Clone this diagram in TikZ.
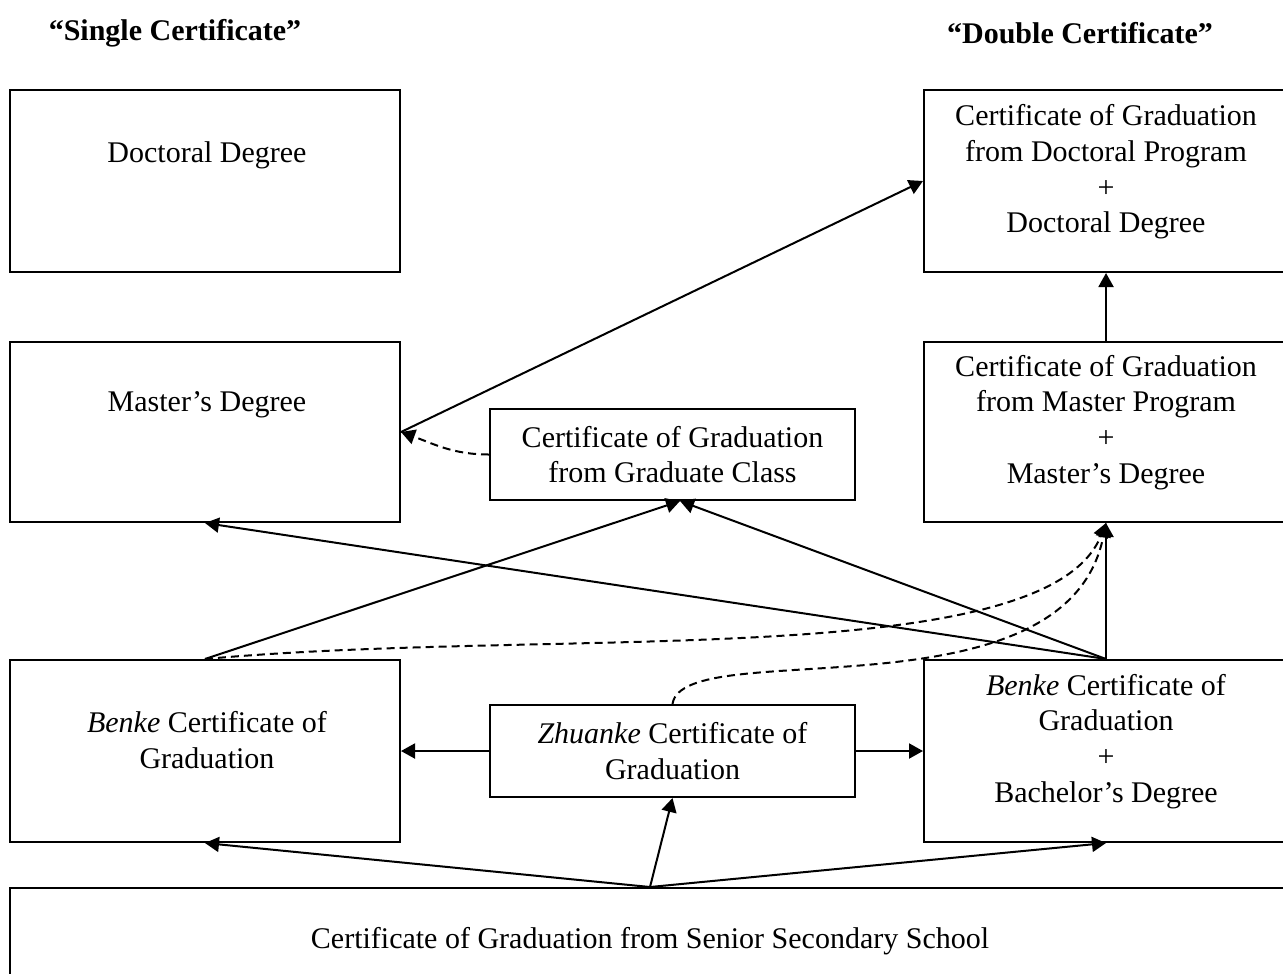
\documentclass[tikz,border=0pt]{standalone}
\usepackage{fontspec}
\setmainfont{Liberation Serif}
\tikzset{
every picture/.style={
line width=0.8pt
}}
\usetikzlibrary{arrows.meta,positioning}
\tikzset{
    box/.style 2 args={
      draw,
      inner sep=0pt,
      minimum width=#1,
      minimum height=#2
    },
    txt/.style={
      align=center,
      font=\fontsize{12}{14.3}\selectfont
    },
    title/.style={
      font=\fontsize{12}{14.3}\selectfont\bfseries
    },
    dashline/.style={
      dash pattern=on 3.2pt off 2pt
    }
}

\begin{document}
\begin{tikzpicture}[x=0.4pt, y=-0.4pt, >={Triangle[length=5.6pt, width=6pt]}]
\useasboundingbox (0,0) rectangle (1283,973);
\clip (0,0) rectangle (1283,973);

\node [title] at (175,33) (single) {“Single Certificate”};
\node [title] at (1080,33) (double) {“Double Certificate”};

% single certificate side
\node [box={156pt}{72.8pt}] at (205,181) (doc) {};
\node [txt] at (207,155) (doc-t) {Doctoral Degree};
\node [box={156pt}{72pt}] at (205,432) (mas) {};
\node [txt] at (207,405) (mas-t) {Master’s Degree};
\node [box={156pt}{72.8pt}] at (205,751) (benke) {};
\node [txt] at (207,740) (benke-t) {\textit{Benke} Certificate of\\Graduation};

% middle
\node [box={146pt}{36.4pt}, txt] at (672.5,454.5) (gcls) {Certificate of Graduation\\from Graduate Class};
\node [box={146pt}{36.8pt}, txt] at (672.5,751) (zk) {\textit{Zhuanke} Certificate of\\Graduation};

% double certificate side
\node [box={145.6pt}{72.8pt}] at (1106,181) (dcert) {};
\node [txt] at (1106,172) (dcert-t) {Certificate of Graduation\\from Doctoral Program\\+\\Doctoral Degree};
\node [box={145.6pt}{72pt}] at (1106,432) (mcert) {};
\node [txt] at (1106,422.5) (mcert-t) {Certificate of Graduation\\from Master Program\\+\\Master’s Degree};
\node [box={145.6pt}{72.8pt}] at (1106,751) (bb) {};
\node [txt] at (1106,741.5) (bb-t) {\textit{Benke} Certificate of\\Graduation\\+\\Bachelor’s Degree};

% senior secondary school
\node [box={512pt}{48pt}] at (650,948) (sen) {};
\node [txt] at (650,941) (sen-t) {Certificate of Graduation from Senior Secondary School};

\draw [->] (mas.east) -- (dcert.west);
\draw [->, dashline] (gcls.west) to[out=180, in=-20] (mas.east);
\foreach \a/\b in {mcert/dcert, bb/mcert} \draw [->] (\a.north) -- (\b.south);
\draw [->] (bb.north) -- (mas.south);
\foreach \x in {bb,benke} \draw [->] (\x.north) -- ([xshift=3pt]gcls.south);
\draw [->, dashline] (benke.north) .. controls +(350,-32) and +(-60,150) .. (mcert.south);
\draw [->, dashline] (zk.north) .. controls +(10,-70) and +(-40,200) .. (mcert.south);
\draw [->] (zk.west) -- (benke.east);
\draw [->] (zk.east) -- (bb.west);
\foreach \x in {benke,zk,bb} \draw [->] (sen.north) -- (\x.south);

\end{tikzpicture}
\end{document}
